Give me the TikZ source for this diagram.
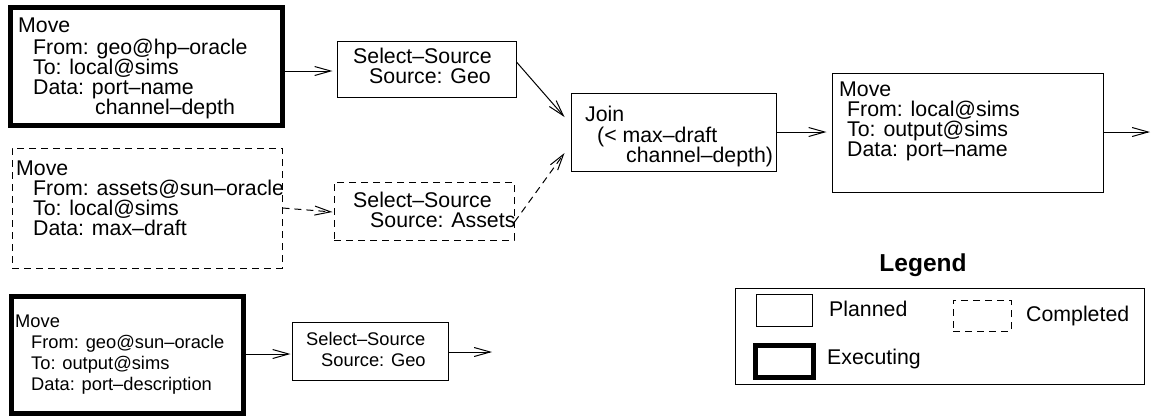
\documentclass[tikz,border=0pt]{standalone}
\usepackage{fontspec}
\setmainfont{Liberation Sans}
\usetikzlibrary{arrows.meta,calc}
\begin{document}
\begin{tikzpicture}[x=1pt,y=-1pt]
\tikzset{
 planned/.style={draw, line width=1pt, rectangle, inner sep=0pt},
 completed/.style={planned, dash pattern=on 7pt off 5pt},
 executing/.style={planned, line width=5pt},
 lbl/.style={anchor=base west, inner sep=0pt, font=\fontsize{21.3}{21.3}\selectfont},
 slbl/.style={lbl, font=\fontsize{18.3}{18.3}\selectfont},
 arr/.style={line width=1pt, -{Straight Barb[length=16pt,width=9pt,line width=1pt]}},
 darr/.style={arr, dash pattern=on 7pt off 5pt},
}
\useasboundingbox (0,0) rectangle (1151,416);

% boxes
\node[executing, minimum width=272pt, minimum height=118pt] (box1) at (146.5,66.5) {};
\node[planned, minimum width=179pt, minimum height=56pt] (ss1) at (426.5,69) {};
\node[planned, minimum width=205pt, minimum height=78pt] (join) at (673.5,132) {};
\node[planned, minimum width=271pt, minimum height=119pt] (move4) at (967.5,132.5) {};
\node[completed, minimum width=270pt, minimum height=120pt] (box2) at (147,208) {};
\node[completed, minimum width=180pt, minimum height=58pt] (ss2) at (424,211) {};
\node[executing, minimum width=232pt, minimum height=117pt] (box3) at (127,354.5) {};
\node[planned, minimum width=156pt, minimum height=58pt] (ss3) at (370,351) {};

% texts box1
\node[lbl] (b1a) at (18,32) {Move};
\node[lbl] (b1b) at (33,54) {From: geo@hp–oracle};
\node[lbl] (b1c) at (33,74) {To: local@sims};
\node[lbl] (b1d) at (33,94) {Data: port–name};
\node[lbl] (b1e) at (95,114) {channel–depth};
% ss1
\node[lbl] (s1a) at (353,63) {Select–Source};
\node[lbl] (s1b) at (369,83) {Source: Geo};
% join
\node[lbl] (ja) at (585,121) {Join};
\node[lbl] (jb) at (597,142) {(< max–draft};
\node[lbl] (jc) at (626,162) {channel–depth)};
% move4
\node[lbl] (m4a) at (839,96) {Move};
\node[lbl] (m4b) at (847,116) {From: local@sims};
\node[lbl] (m4c) at (847,136) {To: output@sims};
\node[lbl] (m4d) at (847,156) {Data: port–name};
% box2
\node[lbl] (b2a) at (16,175) {Move};
\node[lbl] (b2b) at (33,195) {From: assets@sun–oracle};
\node[lbl] (b2c) at (33,215) {To: local@sims};
\node[lbl] (b2d) at (33,235) {Data: max–draft};
% ss2
\node[lbl] (s2a) at (353,207) {Select–Source};
\node[lbl] (s2b) at (370,227) {Source: Assets};
% box3
\node[slbl] (b3a) at (15,327) {Move};
\node[slbl] (b3b) at (31,348) {From: geo@sun–oracle};
\node[slbl] (b3c) at (31,369) {To: output@sims};
\node[slbl] (b3d) at (31,390) {Data: port–description};
% ss3
\node[slbl] (s3a) at (306,345) {Select–Source};
\node[slbl] (s3b) at (321,366) {Source: Geo};

% connectors
\coordinate (out1) at (1150,132);
\coordinate (out2) at (492,352);
\draw[arr] (box1.east |- 0,71) -- ([xshift=-4pt]ss1.west |- 0,71);
\draw[arr] (ss1.east |- 0,62) -- ([xshift=-6pt]join.west |- 0,117);
\draw[darr] (box2.east |- 0,208) -- ([xshift=-1pt]ss2.west |- 0,212);
\draw[darr] (ss2.east |- 0,222) -- ([xshift=-6pt]join.west |- 0,153);
\draw[arr] (join.east) -- ([xshift=-5pt]move4.west |- join.east);
\draw[arr] (move4.east |- out1) -- (out1);
\draw[arr] (box3.east |- 0,354) -- ([xshift=-1pt]ss3.west |- 0,354);
\draw[arr] (ss3.east |- out2) -- (out2);

% legend
\node[anchor=base, inner sep=0pt, font=\fontsize{24.5}{24.5}\selectfont\bfseries] (legtitle) at (923,271) {Legend};
\node[planned, minimum width=409pt, minimum height=96pt] (legend) at (939.5,336) {};
\node[planned, minimum width=56pt, minimum height=32pt] (lgplanned) at (784,310) {};
\node[completed, minimum width=58pt, minimum height=31pt] (lgcompleted) at (982,315.5) {};
\node[executing, minimum width=58pt, minimum height=32pt] (lgexec) at (784,361) {};
\node[lbl] (lgt1) at (829,316) {Planned};
\node[lbl] (lgt2) at (1026,321) {Completed};
\node[lbl] (lgt3) at (827,364) {Executing};
\end{tikzpicture}
\end{document}
